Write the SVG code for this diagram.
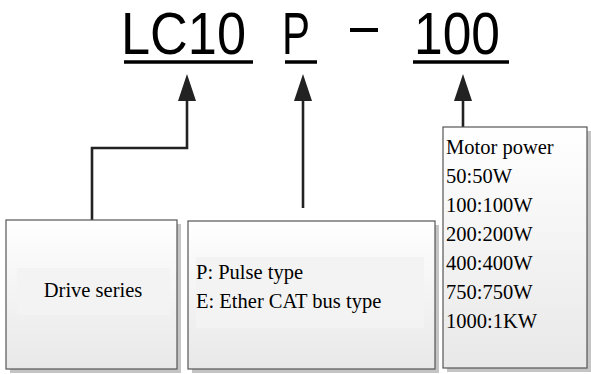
<svg xmlns="http://www.w3.org/2000/svg" width="591" height="374" viewBox="0 0 591 374">
<defs>
<linearGradient id="boxfill" x1="0" y1="0" x2="0" y2="1">
<stop offset="0" stop-color="#ffffff"/>
<stop offset="1" stop-color="#e8e8e8"/>
</linearGradient>
<style>
.title{font-family:"Liberation Sans Narrow","Liberation Sans",Arial,sans-serif;font-size:59px;fill:#000}
.ul{stroke:#000;stroke-width:3.5}
.shadow{fill:#c4c4c4}
.box{fill:url(#boxfill);stroke:#555;stroke-width:1.2}
.band{fill:#f3f3f3}
.lbl{font-family:"Liberation Serif","Times New Roman",serif;font-size:20.5px;fill:#000}
.conn{fill:none;stroke:#222;stroke-width:2.6}
.head{fill:#222}
</style>
</defs>
<g id="title">
<text class="title" x="121" y="54" textLength="125" lengthAdjust="spacingAndGlyphs">LC10</text>
<text class="title" x="282" y="54" textLength="28" lengthAdjust="spacingAndGlyphs">P</text>
<rect x="350" y="28" width="28" height="4" fill="#000"/>
<text class="title" x="414" y="54" textLength="86" lengthAdjust="spacingAndGlyphs">100</text>
<line class="ul" x1="124" y1="62" x2="253" y2="62"/>
<line class="ul" x1="285" y1="62" x2="317" y2="62"/>
<line class="ul" x1="413" y1="62" x2="509" y2="62"/>
</g>
<g id="connectors">
<polyline class="conn" points="92,220 92,148 187,148 187,100"/>
<polygon class="head" points="187,74 178,101 196,101"/>
<line class="conn" x1="303" y1="208" x2="303" y2="100"/>
<polygon class="head" points="303,74 294,101 312,101"/>
<line class="conn" x1="463" y1="127" x2="463" y2="100"/>
<polygon class="head" points="463,74 454,101 472,101"/>
</g>
<g id="node-drive-series">
<rect class="shadow" x="10" y="224" width="171" height="149"/>
<rect class="box" x="6" y="220" width="171" height="149"/>
<rect class="band" x="17" y="268" width="153" height="47"/>
<text class="lbl" x="93" y="297" text-anchor="middle">Drive series</text>
</g>
<g id="node-type">
<rect class="shadow" x="192" y="225" width="247" height="148"/>
<rect class="box" x="188" y="221" width="247" height="148"/>
<rect class="band" x="196" y="257" width="228" height="71"/>
<text class="lbl" x="196" y="279">P: Pulse type</text>
<text class="lbl" x="196" y="308">E: Ether CAT bus type</text>
</g>
<g id="node-motor-power">
<rect class="shadow" x="447" y="131" width="144" height="241"/>
<rect class="box" x="443" y="127" width="144" height="241"/>
<text class="lbl" x="446" y="154">Motor power</text>
<text class="lbl" x="446" y="183">50:50W</text>
<text class="lbl" x="446" y="212">100:100W</text>
<text class="lbl" x="446" y="241">200:200W</text>
<text class="lbl" x="446" y="270">400:400W</text>
<text class="lbl" x="446" y="299">750:750W</text>
<text class="lbl" x="446" y="328">1000:1KW</text>
</g>
</svg>
